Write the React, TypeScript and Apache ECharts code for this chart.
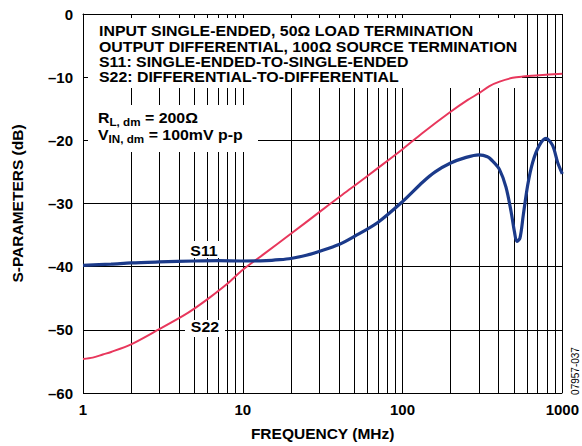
import React, { useEffect, useRef } from "react";
import * as echarts from "echarts";

const s11Freq = [1, 1.5, 2, 3, 5, 7, 10, 14, 17, 20, 25, 30, 40, 50, 70, 100, 134, 160, 200, 250, 300, 340, 370, 404, 444, 478, 501, 519, 543, 570, 607, 652, 718, 791, 869, 935, 1000];
const s11Db = [-39.8, -39.6, -39.4, -39.25, -39.1, -39.05, -39.1, -39.05, -38.9, -38.7, -38.2, -37.6, -36.5, -35.2, -33.0, -29.7, -26.6, -25.0, -23.6, -22.7, -22.3, -22.6, -23.4, -24.6, -27.4, -31.3, -34.4, -36.0, -35.5, -31.8, -27.1, -23.5, -20.8, -19.7, -20.8, -23.5, -25.3];

const s22Freq = [1, 1.15, 1.33, 1.5, 2, 3, 4.22, 5, 6.2, 8, 10, 13.4, 20, 30, 40, 50, 70, 100, 134, 197, 256, 303, 350, 405, 489, 566, 718, 1000];
const s22Db = [-54.6, -54.4, -53.9, -53.5, -52.3, -49.9, -47.8, -46.6, -44.9, -42.7, -40.5, -38.1, -34.8, -31.4, -29.0, -27.2, -24.4, -21.4, -18.8, -15.6, -13.6, -12.5, -11.4, -10.7, -10.1, -9.9, -9.7, -9.45];

const minorFreqs = [2, 3, 4, 5, 6, 7, 8, 9, 20, 30, 40, 50, 60, 70, 80, 90, 200, 300, 400, 500, 600, 700, 800, 900];
const xTickLabels = ["1", "10", "100", "1000"];
const yTickValues = [-60, -50, -40, -30, -20, -10, 0];

const noteLines = [
  "INPUT SINGLE-ENDED, 50Ω LOAD TERMINATION",
  "OUTPUT DIFFERENTIAL, 100Ω SOURCE TERMINATION",
  "S11: SINGLE-ENDED-TO-SINGLE-ENDED",
  "S22: DIFFERENTIAL-TO-DIFFERENTIAL",
];

const FONT = '"Liberation Sans", Arial, Helvetica, sans-serif';
const S11_COLOR = "#1B3A8A";
const S22_COLOR = "#E8375C";

export default function App() {
  const ref = useRef<HTMLDivElement>(null);
  useEffect(() => {
    const chart = echarts.init(ref.current!, null, { renderer: "svg" });
    const bold = (size: number) => `bold ${size}px ${FONT}`;
    const noteY = [31, 47, 62, 77];
    const SX = 1.06;
    chart.setOption({
      animation: false,
      backgroundColor: "#fff",
      grid: { left: 83, right: 19, top: 14, bottom: 50 },
      xAxis: {
        type: "log",
        logBase: 10,
        min: 1,
        max: 1000,
        axisLine: { show: true, lineStyle: { color: "#000", width: 1 } },
        axisTick: { show: false },
        splitLine: { show: true, lineStyle: { color: "#000", width: 1 } },
        axisLabel: {
          color: "#000",
          fontFamily: FONT,
          fontWeight: "bold",
          fontSize: 15,
          margin: 9,
          formatter: (v: number) => xTickLabels[Math.round(Math.log10(v))] ?? String(v),
        },
        name: "FREQUENCY (MHz)",
        nameLocation: "middle",
        nameGap: 32,
        nameTextStyle: { color: "#000", fontFamily: FONT, fontWeight: "bold", fontSize: 15.5 },
      },
      yAxis: {
        type: "value",
        min: -60,
        max: 0,
        interval: 10,
        axisLine: { show: true, lineStyle: { color: "#000", width: 1 } },
        axisTick: { show: false },
        splitLine: { show: true, lineStyle: { color: "#000", width: 1 } },
        axisLabel: {
          color: "#000",
          fontFamily: FONT,
          fontWeight: "bold",
          fontSize: 15,
          margin: 10,
          formatter: (v: number) => (yTickValues.includes(v) ? (v < 0 ? "\u2013" + Math.abs(v) : String(v)) : ""),
        },
        name: "S-PARAMETERS (dB)",
        nameLocation: "middle",
        nameGap: 58,
        nameTextStyle: { color: "#000", fontFamily: FONT, fontWeight: "bold", fontSize: 15.5 },
      },
      series: [
        {
          type: "line",
          data: [],
          silent: true,
          z: 1,
          markLine: {
            silent: true,
            symbol: ["none", "none"],
            label: { show: false },
            lineStyle: { color: "#000", width: 1, type: "solid" },
            emphasis: { disabled: true },
            data: minorFreqs.map((f) => ({ xAxis: f })),
          },
        },
        {
          name: "S22",
          type: "line",
          data: s22Freq.map((f, i) => [f, s22Db[i]]),
          showSymbol: false,
          smooth: 0.3,
          z: 100,
          lineStyle: { color: S22_COLOR, width: 2 },
        },
        {
          name: "S11",
          type: "line",
          data: s11Freq.map((f, i) => [f, s11Db[i]]),
          showSymbol: false,
          smooth: 0.3,
          z: 100,
          lineStyle: { color: S11_COLOR, width: 3.2 },
        },
      ],
      graphic: [
        { type: "rect", z: 50, shape: { x: 88, y: 18, width: 434, height: 70 }, style: { fill: "#fff" } },
        { type: "rect", z: 50, shape: { x: 88, y: 105, width: 170, height: 47 }, style: { fill: "#fff" } },
        { type: "rect", z: 50, shape: { x: 187, y: 241, width: 36, height: 17 }, style: { fill: "#fff" } },
        { type: "rect", z: 50, shape: { x: 185, y: 320, width: 40, height: 17 }, style: { fill: "#fff" } },
        ...noteLines.map((t, i) => ({
          type: "text",
          z: 60,
          x: 99,
          y: noteY[i],
          scaleX: SX,
          style: { text: t, font: bold(15), fill: "#000", align: "left", verticalAlign: "middle" },
        })),
        {
          type: "text",
          z: 60,
          x: 98,
          y: 118,
          scaleX: SX,
          style: {
            text: "{b|R}{s|L, dm}{b| = 200Ω}",
            fill: "#000",
            align: "left",
            verticalAlign: "middle",
            rich: {
              b: { font: bold(15), lineHeight: 19, verticalAlign: "middle" },
              s: { font: bold(11), lineHeight: 19, verticalAlign: "bottom" },
            },
          },
        },
        {
          type: "text",
          z: 60,
          x: 98,
          y: 135,
          scaleX: SX,
          style: {
            text: "{b|V}{s|IN, dm}{b| = 100mV p-p}",
            fill: "#000",
            align: "left",
            verticalAlign: "middle",
            rich: {
              b: { font: bold(15), lineHeight: 19, verticalAlign: "middle" },
              s: { font: bold(11), lineHeight: 19, verticalAlign: "bottom" },
            },
          },
        },
        {
          type: "text",
          z: 60,
          x: 204,
          y: 251,
          scaleX: SX,
          style: { text: "S11", font: bold(15), fill: "#000", align: "center", verticalAlign: "middle" },
        },
        {
          type: "text",
          z: 60,
          x: 205,
          y: 327,
          scaleX: SX,
          style: { text: "S22", font: bold(15), fill: "#000", align: "center", verticalAlign: "middle" },
        },
        {
          type: "text",
          z: 60,
          x: 575,
          y: 371,
          rotation: Math.PI / 2,
          style: { text: "07957-037", font: `10px ${FONT}`, fill: "#000", align: "center", verticalAlign: "middle" },
        },
      ],
    });
    return () => chart.dispose();
  }, []);
  return (
    <div
      ref={ref}
      style={{ position: "fixed", left: 0, top: 0, width: 582, height: 446, background: "#fff" }}
    />
  );
}
